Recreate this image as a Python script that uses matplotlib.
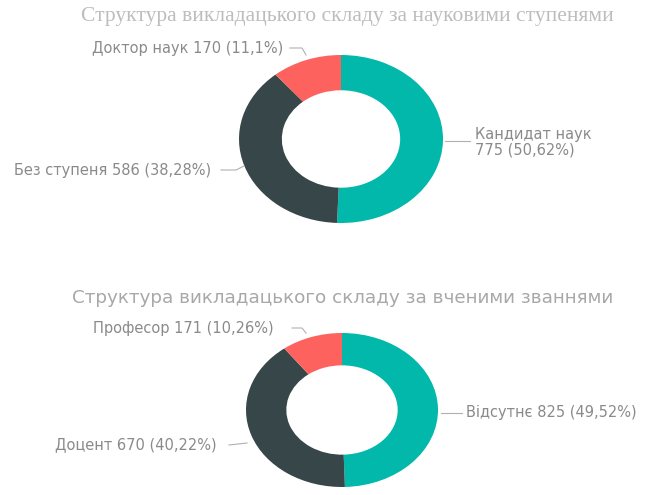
import matplotlib
matplotlib.use('Agg')
import matplotlib.pyplot as plt
from matplotlib.lines import Line2D

W, H = 646, 495

# науковий ступінь
degree_names = ['Кандидат наук', 'Без ступеня', 'Доктор наук']
degree_counts = [775, 586, 170]

# вчене звання
rank_names = ['Відсутнє', 'Доцент', 'Професор']
rank_counts = [825, 670, 171]

colors = ['#01B8AA', '#374649', '#FD625E']
label_color = '#8a8a8a'
fs = 10.5


def px(x, y):
    # пікселі (зліва-зверху) -> частки фігури
    return x / W, 1 - y / H


def pct(v, total):
    s = '%.2f' % (100.0 * v / total)
    s = s.rstrip('0').rstrip('.')
    return s.replace('.', ',') + '%'


def donut(fig, cx, cy, rx, ry, counts):
    ax = fig.add_axes([(cx - rx) / W, 1 - (cy + ry) / H, 2 * rx / W, 2 * ry / H])
    ax.pie(counts, colors=colors, startangle=90, counterclock=False, radius=1,
           wedgeprops=dict(width=0.42, linewidth=0))
    ax.set_xlim(-1, 1)
    ax.set_ylim(-1, 1)
    ax.set_aspect('auto')
    ax.axis('off')
    return ax


def leader(fig, pts):
    xs = [px(p[0], p[1])[0] for p in pts]
    ys = [px(p[0], p[1])[1] for p in pts]
    fig.lines.append(Line2D(xs, ys, transform=fig.transFigure, color='#b0b0b0', lw=0.8))


fig = plt.figure(figsize=(W / 100, H / 100), dpi=100)
fig.patch.set_facecolor('white')

# перша діаграма
fig.text(*px(347, 17), 'Структура викладацького складу за науковими ступенями',
         ha='center', va='center', fontsize=15.5, color='#bdbdbd', family='Liberation Serif')
donut(fig, 341, 139, 102, 84, degree_counts)
t1 = sum(degree_counts)

x, y = px(475, 142)
fig.text(x, y, '%s\n%d (%s)' % (degree_names[0], degree_counts[0], pct(degree_counts[0], t1)),
         ha='left', va='center', fontsize=fs, color=label_color, linespacing=1.05)
leader(fig, [(445, 141), (470, 141)])

fig.text(*px(14, 170), '%s %d (%s)' % (degree_names[1], degree_counts[1], pct(degree_counts[1], t1)),
         ha='left', va='center', fontsize=fs, color=label_color)
leader(fig, [(221, 170), (236, 170), (244, 166)])

fig.text(*px(92, 49), '%s %d (%s)' % (degree_names[2], degree_counts[2], pct(degree_counts[2], t1)),
         ha='left', va='center', fontsize=fs, color=label_color)
leader(fig, [(290, 48), (302, 48), (306, 55)])

# друга діаграма
fig.text(*px(343, 298), 'Структура викладацького складу за вченими званнями',
         ha='center', va='center', fontsize=13.2, color='#a8a8a8')
donut(fig, 342, 410, 96, 77, rank_counts)
t2 = sum(rank_counts)

fig.text(*px(466, 412), '%s %d (%s)' % (rank_names[0], rank_counts[0], pct(rank_counts[0], t2)),
         ha='left', va='center', fontsize=fs, color=label_color)
leader(fig, [(441, 413), (462, 413)])

fig.text(*px(55, 445), '%s %d (%s)' % (rank_names[1], rank_counts[1], pct(rank_counts[1], t2)),
         ha='left', va='center', fontsize=fs, color=label_color)
leader(fig, [(229, 445), (247, 443)])

fig.text(*px(93, 329), '%s %d (%s)' % (rank_names[2], rank_counts[2], pct(rank_counts[2], t2)),
         ha='left', va='center', fontsize=fs, color=label_color)
leader(fig, [(292, 328), (302, 328), (306, 333)])

fig.savefig('out.png', dpi=100, facecolor='white')
